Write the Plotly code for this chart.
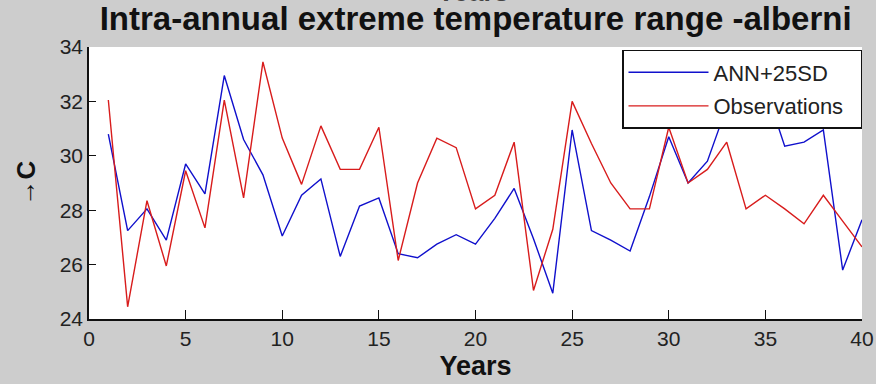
import plotly.graph_objects as go

# Year index along the x axis
years = list(range(1, 41))

# Intra-annual extreme temperature range (°C) for Alberni
ann_25sd = [30.8, 27.25, 28.05, 26.9, 29.7, 28.6, 32.95, 30.6, 29.3, 27.05,
            28.55, 29.15, 26.3, 28.15, 28.45, 26.4, 26.25, 26.75, 27.1, 26.75,
            27.7, 28.8, 26.95, 24.95, 30.95, 27.25, 26.9, 26.5, 28.5, 30.7,
            29.0, 29.8, 31.8, 32.3, 32.5, 30.35, 30.5, 30.95, 25.8, 27.65]

observations = [32.05, 24.45, 28.35, 25.95, 29.45, 27.35, 32.05, 28.45, 33.45, 30.65,
                28.95, 31.1, 29.5, 29.5, 31.05, 26.15, 29.0, 30.65, 30.3, 28.05,
                28.55, 30.5, 25.05, 27.3, 32.0, 30.45, 29.0, 28.05, 28.05, 31.05,
                29.0, 29.5, 30.5, 28.05, 28.55, 28.05, 27.5, 28.55, 27.6, 26.65]

x_ticks = [0, 5, 10, 15, 20, 25, 30, 35, 40]
y_ticks = [24, 26, 28, 30, 32, 34]

SANS = "Liberation Sans, Arial, sans-serif"
BG = "#cdcdcd"
PAD = "\u00a0\u00a0"  # right padding inside the legend box

fig = go.Figure()
fig.add_trace(go.Scatter(x=years, y=ann_25sd, mode="lines", name="ANN+25SD",
                         legendgroup="ann",
                         line=dict(color="#1010cc", width=1.4)))
fig.add_trace(go.Scatter(x=years, y=observations, mode="lines", name="Observations" + PAD,
                         legendgroup="obs",
                         line=dict(color="#d81c1c", width=1.4)))

fig.update_layout(
    width=876, height=384,
    margin=dict(l=89, r=14, t=47, b=65),
    paper_bgcolor=BG, plot_bgcolor="white",
    font=dict(family=SANS, color="#222", size=21),
    title=dict(text="<b>Intra-annual extreme temperature range -alberni</b>",
               font=dict(family=SANS, size=33, color="#111"),
               x=0.543, xanchor="center", y=0.953, yanchor="middle"),
    showlegend=True,
    legend=dict(x=1.0, xanchor="right", y=0.989, yanchor="top",
                bgcolor="white", bordercolor="#111", borderwidth=1.5,
                font=dict(family=SANS, size=22, color="#222"),
                itemwidth=80, tracegroupgap=2),
    xaxis=dict(range=[0, 40], tickvals=x_ticks, ticks="inside", ticklen=9,
               tickwidth=1.2, tickcolor="#111", showline=True, linecolor="#111",
               linewidth=1.5, showgrid=False, zeroline=False, automargin=False,
               tickfont=dict(size=21),
               title=dict(text="<b>Years</b>", standoff=7,
                          font=dict(family=SANS, size=27, color="#111"))),
    yaxis=dict(range=[24, 34], tickvals=y_ticks, ticks="inside", ticklen=7,
               tickwidth=1.2, tickcolor="#111", showline=True, linecolor="#111",
               linewidth=1.5, showgrid=False, zeroline=False, automargin=False,
               tickfont=dict(size=21),
               title=dict(text="<b>→C</b>", standoff=17,
                          font=dict(family=SANS, size=26, color="#111"))),
)

# Lower edge of the previous panel's axis label, showing above the title
fig.add_annotation(text="<b>Years</b>", xref="paper", yref="paper",
                   x=0.497, y=1.14, xanchor="center", yanchor="bottom",
                   showarrow=False,
                   font=dict(family=SANS, size=27, color="#444"))

fig.write_html("out.html")
